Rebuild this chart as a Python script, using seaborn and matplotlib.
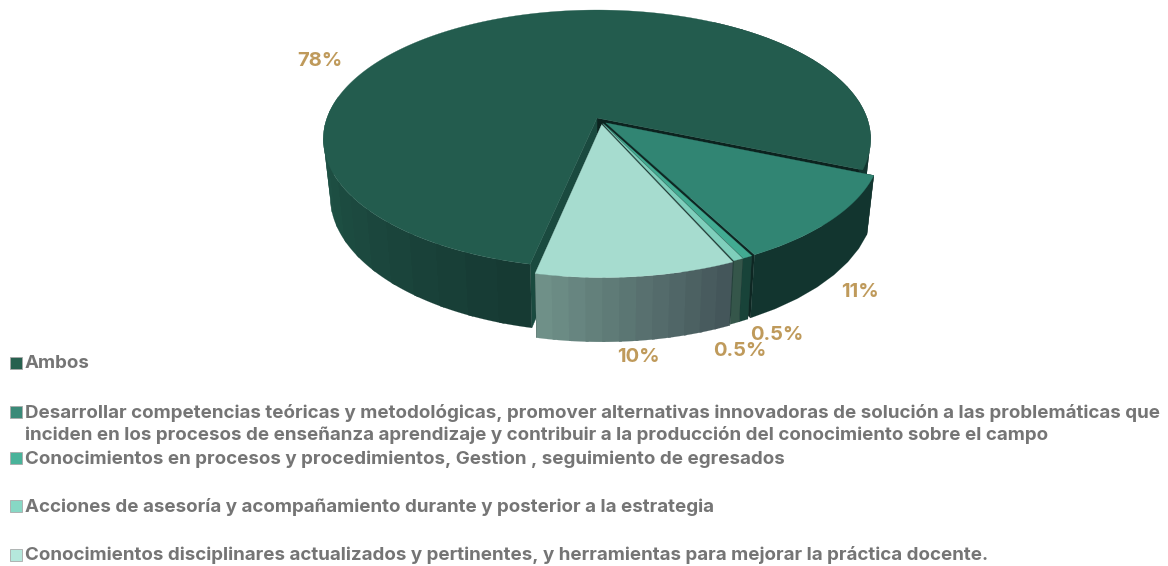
import numpy as np
import matplotlib
matplotlib.use("Agg")
import matplotlib.pyplot as plt
from matplotlib.patches import Polygon, Rectangle
from matplotlib.colors import to_rgb
import seaborn as sns

categories = [
    "Ambos",
    "Desarrollar competencias teóricas y metodológicas, promover alternativas innovadoras de solución a las problemáticas que\ninciden en los procesos de enseñanza aprendizaje y contribuir a la producción del conocimiento sobre el campo",
    "Conocimientos en procesos y procedimientos, Gestion , seguimiento de egresados",
    "Acciones de asesoría y acompañamiento durante y posterior a la estrategia",
    "Conocimientos disciplinares actualizados y pertinentes, y herramientas para mejorar la práctica docente.",
]
values = [78, 11, 0.5, 0.5, 10]
value_labels = ["78%", "11%", "0.5%", "0.5%", "10%"]
top_colors = ["#235c4e", "#318573", "#42ab92", "#7fcfbc", "#a6dccf"]
legend_colors = ["#27614f", "#3a8a78", "#49b39a", "#87d8c5", "#b5e8dc"]
wall_left = ["#225a4c", "#12352f", "#184339", "#35564a", "#6f9088"]
wall_right = ["#163a33", "#12352f", "#184339", "#35564a", "#44565a"]
face_a0 = ["#0c231f", "#0e2723", "#1d3f38", "#243f3a", "#243f3a"]
face_a1 = ["#1a4a3f", "#0e2723", "#1d3f38", "#243f3a", "#243f3a"]

sns.set_theme(style="white")
plt.rcParams["font.family"] = ["Inter", "DejaVu Sans"]
palette = sns.color_palette(top_colors)

fig, ax = plt.subplots(figsize=(11.68, 5.66), dpi=100)
ax.set_position([0, 0, 1, 1])
ax.set_xlim(0, 1168)
ax.set_ylim(566, 0)
ax.axis("off")

CX, CY, S, C, K = 597.0, 118.0, 270.0, 125.6, 0.163
START = -22.8
EXPLODE = [0.0, 0.05, 0.05, 0.05, 0.055]
EXPLODE_DIR = [0.0, -50.0, -63.0, -65.0, -72.0]


def project(theta, off, z=0.0, r=1.0):
    t = np.radians(theta)
    X = off[0] + r * np.cos(t)
    Y = off[1] + r * np.sin(t)
    w = 1 + K * Y
    x = CX + S * X / w
    y = CY - C * Y / w
    if z:
        x = CX + (x - CX) * 0.975
        y = y * 1.05 + 50.5
    return np.column_stack([np.atleast_1d(x), np.atleast_1d(y)])


def mix(a, b, f):
    a, b = np.array(to_rgb(a)), np.array(to_rgb(b))
    return tuple(a + (b - a) * f)


def wall_band(e0, e1, off, color, zorder):
    th = np.linspace(e0, e1, 8)
    ax.add_patch(Polygon(np.vstack([project(th, off), project(th[::-1], off, 1)]),
                         fc=color, ec=color, lw=0.1, zorder=zorder))


# slices run clockwise from START
angle = START
spans = []
for v in values[1:]:
    spans.append((angle - v * 3.6, angle))
    angle -= v * 3.6
spans.insert(0, (START, angle + 360))

for i, (a0, a1) in enumerate(spans):
    d = np.radians(EXPLODE_DIR[i])
    off = (EXPLODE[i] * np.cos(d), EXPLODE[i] * np.sin(d))
    apex_t = project(0, off, 0, 0)[0]
    apex_b = project(0, off, 1, 0)[0]
    # radial faces
    for edge, fcol in ((a0, face_a0[i]), (a1, face_a1[i])):
        t = project(edge, off)[0]
        b = project(edge, off, 1)[0]
        ax.add_patch(Polygon([apex_t, t, b, apex_b], fc=fcol, ec=fcol, lw=0.3, zorder=i * 3 + 1))
    # outer wall: each band runs a little under the next one so no seam shows
    if i == 0:
        right_edges = np.linspace(a0, 60, 12)
        for e0, e1 in zip(right_edges[:-1], right_edges[1:]):
            wall_band(e0, e1 + 0.5, off, "#12352f", 2)
        edges = np.linspace(170, a1, 15)
        for j, (e0, e1) in enumerate(zip(edges[:-1], edges[1:])):
            end = min(e1 + 1.0, a1)
            wall_band(e0, end, off, mix(wall_left[0], wall_right[0], j / 13), 2)
    elif i == 4:
        edges = np.linspace(a0, a1, 13)  # left to right on the front of the pie
        for j, (e0, e1) in enumerate(zip(edges[:-1], edges[1:])):
            end = min(e1 + 0.5, a1)
            wall_band(e0, end, off, mix(wall_left[i], wall_right[i], j / 11), i * 3 + 2)
    else:
        wall_band(a0, a1, off, wall_left[i], i * 3 + 2)
    # top
    th = np.linspace(a0, a1, max(int(a1 - a0) * 2, 6))
    top = np.vstack([apex_t, project(th, off)])
    ax.add_patch(Polygon(top, fc=palette[i], ec=palette[i], lw=0.2, zorder=i * 3 + 3))

label_xy = [(320, 61), (860, 292), (777, 335), (740, 351), (638, 357)]
for s, (x, y) in zip(value_labels, label_xy):
    ax.text(x, y, s, color="#bf9a5b", fontsize=14.5, fontweight="bold", ha="center", va="center", zorder=30)

legend_y = [363, 412, 458, 506, 555]
text_y = [364, 424, 459, 507, 555]
for name, col, ym, yt in zip(categories, legend_colors, legend_y, text_y):
    ax.add_patch(Rectangle((9.5, ym - 6.5), 12.5, 12.5, fc=col, ec="#a9a9a9", lw=0.6, zorder=30))
    ax.text(25, yt, name, color="#757575", fontsize=13.5, fontweight="bold", ha="left", va="center",
            linespacing=1.34, zorder=30)

fig.savefig("out.png", dpi=100)
